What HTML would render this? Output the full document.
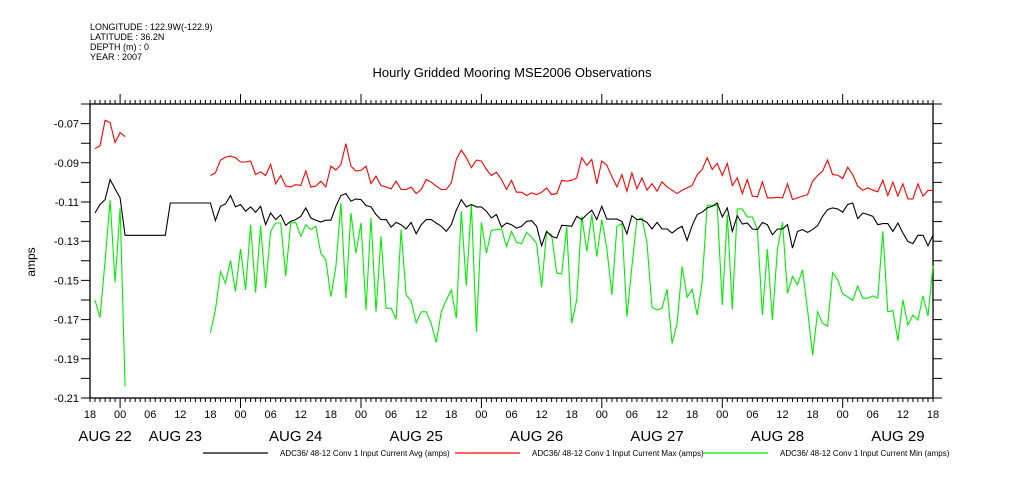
<!DOCTYPE html>
<html><head><meta charset="utf-8"><style>
html,body{margin:0;padding:0;background:#fff;}
svg{display:block;font-family:"Liberation Sans",sans-serif;}
</style></head><body>
<svg id="chart" width="1009" height="504" viewBox="0 0 1009 504" xmlns="http://www.w3.org/2000/svg">
<rect x="0" y="0" width="1009" height="504" fill="#fff"/>
<g font-size="9" fill="#000">
<text x="90" y="30">LONGITUDE : 122.9W(-122.9)</text>
<text x="90" y="40">LATITUDE : 36.2N</text>
<text x="90" y="50">DEPTH (m) : 0</text>
<text x="90" y="60">YEAR : 2007</text>
</g>
<text x="512" y="77" text-anchor="middle" font-size="13">Hourly Gridded Mooring MSE2006 Observations</text>
<text transform="translate(35,262) rotate(-90)" text-anchor="middle" font-size="12">amps</text>
<g id="axes"></g>
<g id="series"></g>
<g id="legend"></g>
</svg>
<script>
const hours = Array.from({length:169},(_,i)=>i);
const redSeg1 = [null,-0.0828,-0.0814,-0.0683,-0.0695,-0.0797,-0.0746,-0.0767];
const redSeg2 = [-0.0965,-0.0951,-0.0886,-0.0871,-0.0866,-0.0874,-0.0896,-0.0896,-0.0891,-0.0960,-0.0946,-0.0965,-0.0908,-0.1007,-0.0965,-0.1019,-0.1023,-0.1011,-0.1016,-0.0942,-0.1024,-0.1019,-0.0994,-0.1023,-0.0917,-0.0937,-0.0908,-0.0802,-0.0917,-0.0942,-0.0939,
-0.0917,-0.1006,-0.0968,-0.1016,-0.1023,-0.1033,-0.0994,-0.1036,-0.1036,-0.1024,-0.1057,-0.1036,-0.0985,-0.0999,-0.1019,-0.1036,-0.1036,-0.1002,-0.0883,-0.0835,-0.0874,-0.0925,-0.0886,-0.0891,-0.0934,-0.0965,-0.0948,-0.0985,-0.1036,-0.0990,-0.1050,-0.1050,-0.1067,-0.1053,-0.1062,-0.1050,-0.1028,-0.1062,-0.1057,-0.0990,-0.0994,-0.0989,-0.0977,-0.0874,-0.0913,-0.0883,-0.1007,-0.0891,-0.0913,-0.0971,-0.1023,-0.0960,-0.1045,
-0.0951,-0.1033,-0.0977,-0.1040,-0.1006,-0.1045,-0.0997,-0.1023,-0.1040,-0.1057,-0.1040,-0.1028,-0.1016,-0.0960,-0.0934,-0.0874,-0.0934,-0.0903,-0.0965,-0.0903,-0.1016,-0.0977,-0.1057,-0.0985,-0.1070,-0.1074,-0.0997,-0.1079,-0.1079,-0.1076,-0.1079,-0.1007,-0.1088,-0.1079,-0.1070,-0.1062,-0.0994,-0.0965,-0.0942,-0.0886,-0.0960,-0.0963,-0.0980,-0.0922,-0.0960,-0.1019,-0.1040,-0.1028,-0.1040,-0.1048,-0.0989,-0.1067,-0.0999,-0.1070,-0.1007,-0.1084,-0.1084,-0.1007,-0.1070,-0.1041,-0.1041];
const blackVals = [null,-0.1156,-0.1113,-0.1088,-0.0985,-0.1033,-0.1079,-0.1270,-0.1270,-0.1270,-0.1270,-0.1270,-0.1270,-0.1270,-0.1270,-0.1270,-0.1105,-0.1105,-0.1105,-0.1105,-0.1105,-0.1105,-0.1105,-0.1105,-0.1105,
-0.1195,-0.1122,-0.1110,-0.1067,-0.1125,-0.1113,-0.1147,-0.1125,-0.1152,-0.1122,-0.1216,-0.1156,-0.1190,-0.1166,-0.1219,-0.1199,-0.1190,-0.1173,-0.1130,-0.1181,-0.1193,-0.1202,-0.1193,-0.1193,-0.1122,-0.1067,-0.1057,-0.1096,-0.1084,-0.1088,
-0.1118,-0.1125,-0.1164,-0.1190,-0.1190,-0.1228,-0.1204,-0.1216,-0.1238,-0.1204,-0.1262,-0.1216,-0.1190,-0.1190,-0.1207,-0.1224,-0.1250,-0.1216,-0.1142,-0.1088,-0.1125,-0.1113,-0.1125,-0.1125,-0.1147,-0.1181,-0.1164,-0.1228,-0.1207,-0.1216,-0.1233,-0.1224,-0.1199,-0.1195,-0.1224,-0.1323,-0.1250,-0.1275,-0.1284,-0.1219,-0.1221,-0.1224,-0.1173,-0.1190,-0.1164,-0.1142,-0.1190,-0.1122,-0.1187,-0.1187,-0.1187,-0.1199,-0.1262,
-0.1170,-0.1190,-0.1190,-0.1204,-0.1238,-0.1204,-0.1238,-0.1238,-0.1258,-0.1238,-0.1224,-0.1296,-0.1221,-0.1164,-0.1152,-0.1130,-0.1122,-0.1105,-0.1176,-0.1130,-0.1250,-0.1170,-0.1212,-0.1207,-0.1238,-0.1241,-0.1204,-0.1216,-0.1267,-0.1238,-0.1238,-0.1216,-0.1335,-0.1250,-0.1241,-0.1255,-0.1241,-0.1221,-0.1173,-0.1139,-0.1130,-0.1135,-0.1152,-0.1113,-0.1105,-0.1185,-0.1156,-0.1164,-0.1173,-0.1216,-0.1210,-0.1210,-0.1250,-0.1207,-0.1258,-0.1301,-0.1313,-0.1270,-0.1270,-0.1323,-0.1270];
const greenSeg1 = [null,-0.160,-0.169,-0.140,-0.109,-0.151,-0.113,-0.204];
const greenSeg2 = [-0.1767,-0.1651,-0.1455,-0.1514,-0.1398,-0.1557,-0.1340,-0.1549,-0.1216,-0.1562,-0.1221,-0.1540,-0.1250,-0.1207,-0.1207,-0.1477,-0.1207,-0.1204,-0.1275,-0.1216,-0.1241,-0.1224,-0.1361,-0.1395,-0.1583,-0.1429,-0.1105,-0.1591,-0.1156,-0.1361,-0.1207,
-0.1651,-0.1181,-0.1660,-0.1275,-0.1642,-0.1642,-0.1699,-0.1241,-0.1574,-0.1603,-0.1716,-0.1660,-0.1660,-0.1720,-0.1817,-0.1660,-0.1600,-0.1549,-0.1694,-0.1147,-0.1528,-0.1113,-0.1762,-0.1204,-0.1361,-0.1245,-0.1241,-0.1238,-0.1327,-0.1250,-0.1306,-0.1313,-0.1255,-0.1279,-0.1313,-0.1535,-0.1255,-0.1267,-0.1463,-0.1467,-0.1228,-0.1719,-0.1600,-0.1173,-0.1352,-0.1164,-0.1378,-0.1190,-0.1335,-0.1574,-0.1224,-0.1210,-0.1685,
-0.1429,-0.1190,-0.1181,-0.1310,-0.1637,-0.1651,-0.1642,-0.1545,-0.1822,-0.1719,-0.1429,-0.1586,-0.1545,-0.1677,-0.1506,-0.1117,-0.1117,-0.1117,-0.1625,-0.1164,-0.1648,-0.1135,-0.1135,-0.1176,-0.1176,-0.1241,-0.1677,-0.1340,-0.1702,-0.1340,-0.1204,-0.1566,-0.1480,-0.1523,-0.1446,-0.1651,-0.1882,-0.1660,-0.1719,-0.1733,-0.1460,-0.1497,-0.1569,-0.1583,-0.1603,-0.1528,-0.1591,-0.1591,-0.1579,-0.1591,-0.1250,-0.1660,-0.1654,-0.1808,-0.1600,-0.1728,-0.1677,-0.1702,-0.1579,-0.1682,-0.1426];
const gap = new Array(16).fill(null);
const redVals = redSeg1.concat(gap, redSeg2);
const greenVals = greenSeg1.concat(gap, greenSeg2);
const yTickValues = [-0.07,-0.09,-0.11,-0.13,-0.15,-0.17,-0.19,-0.21];
const yTickLabels = ["-0.07","-0.09","-0.11","-0.13","-0.15","-0.17","-0.19","-0.21"];
const hourLabels = ["18","00","06","12","18","00","06","12","18","00","06","12","18","00","06","12","18","00","06","12","18","00","06","12","18","00","06","12","18"];
const dateLabels = ["AUG 22","AUG 23","AUG 24","AUG 25","AUG 26","AUG 27","AUG 28","AUG 29"];
const dateHours = [3,17,41,65,89,113,137,161];
const legendNames = ["ADC36/ 48-12 Conv 1 Input Current Avg (amps)","ADC36/ 48-12 Conv 1 Input Current Max (amps)","ADC36/ 48-12 Conv 1 Input Current Min (amps)"];

const NS="http://www.w3.org/2000/svg";
const X0=90,X1=933,Y0=104,Y1=398,VMIN=-0.21,VMAX=-0.06,HMAX=168;
const xs=h=>X0+(X1-X0)*h/HMAX;
const ys=v=>Y1-(Y1-Y0)*(v-VMIN)/(VMAX-VMIN);
function mk(tag,attrs,parent){const e=document.createElementNS(NS,tag);for(const k in attrs)e.setAttribute(k,attrs[k]);parent.appendChild(e);return e;}
const axes=document.getElementById('axes');
const frame=mk('rect',{x:X0,y:Y0,width:X1-X0,height:Y1-Y0,fill:'none',stroke:'#000','stroke-width':1.3},axes);


let d='';
for(let h=0;h<=HMAX;h++){const x=xs(h).toFixed(1);const major=(h%24===6);const L=major?10:4;d+=`M${x},${Y0}V${Y0-L}M${x},${Y1}V${Y1+L}`;}
for(let i=0;i<=15;i++){const y=ys(VMIN+i*0.01).toFixed(1);d+=`M${X0},${y}H${X0-9}M${X1},${y}H${X1+9}`;}
const tk=mk('path',{d:d,stroke:'#000','stroke-width':1,fill:'none'},axes);


yTickValues.forEach((v,i)=>{const t=mk('text',{x:X0-11,y:ys(v)+4,'text-anchor':'end','font-size':11},axes);t.textContent=yTickLabels[i];

});
hourLabels.forEach((s,i)=>{const t=mk('text',{x:xs(i*6),y:418,'text-anchor':'middle','font-size':11},axes);t.textContent=s;

});
dateLabels.forEach((s,i)=>{const t=mk('text',{x:xs(dateHours[i]),y:441,'text-anchor':'middle','font-size':15},axes);t.textContent=s;

});
const ser=document.getElementById('series');
function line(vals,color,name){let p='';let pen=false;vals.forEach((v,h)=>{if(v===null){pen=false;return;}p+=(pen?'L':'M')+xs(h).toFixed(1)+','+ys(v).toFixed(1);pen=true;});
const e=mk('path',{d:p,stroke:color,'stroke-width':1.1,fill:'none'},ser);

}
line(greenVals,'#00ee00','series-min');
line(redVals,'#ff0000','series-max');
line(blackVals,'#000000','series-avg');
const lg=document.getElementById('legend');
const lx=[203,455,703],colors=['#000','#ff0000','#00ee00'];
legendNames.forEach((s,i)=>{const l=mk('line',{x1:lx[i],x2:lx[i]+65,y1:453,y2:453,stroke:colors[i],'stroke-width':1.2},lg);


const t=mk('text',{x:lx[i]+77,y:456,'font-size':8},lg);t.textContent=s;

});
</script>
</body></html>
